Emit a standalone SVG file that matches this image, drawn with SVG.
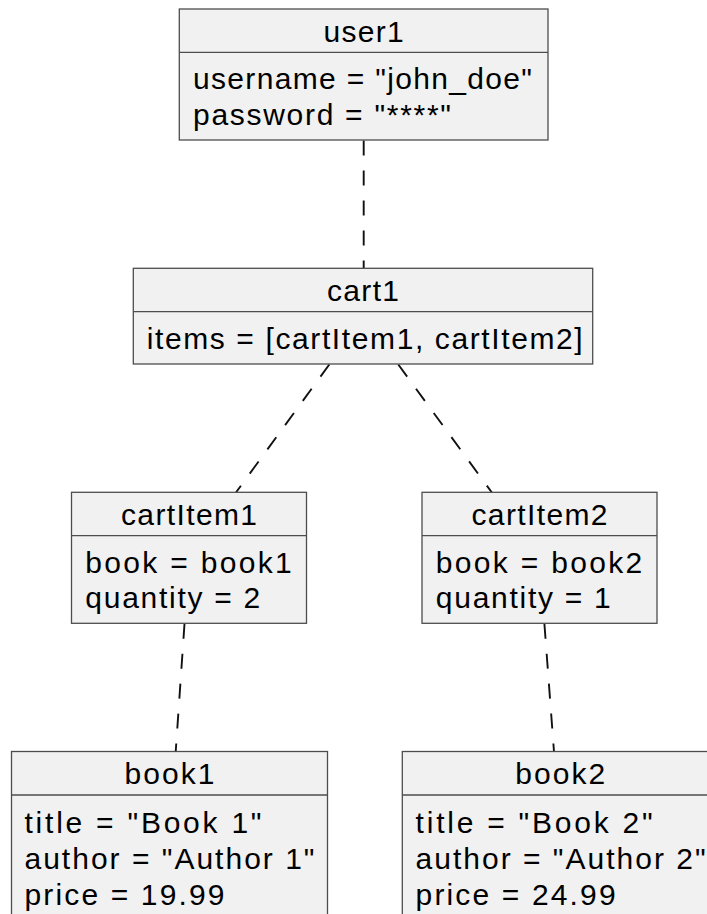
<svg xmlns="http://www.w3.org/2000/svg" width="707" height="914" viewBox="0 0 707 914">
<style>
.box{fill:#F1F1F1;stroke:#4d4d4d;stroke-width:1.3}
.div{stroke:#4d4d4d;stroke-width:1.3}
.t{font-family:"Liberation Sans",Arial,Helvetica,sans-serif;font-size:30px;fill:#000}
.link{stroke:#111;stroke-width:1.9;stroke-dasharray:15 15;fill:none}
</style>
<rect width="707" height="914" fill="#fff"/>
<g id="connectors">
<line class="link" x1="363.7" y1="140.5" x2="363.7" y2="268.3"/>
<line class="link" x1="329.3" y1="364.5" x2="236.1" y2="492.3"/>
<line class="link" x1="398.3" y1="364.5" x2="491.7" y2="492.3"/>
<line class="link" x1="184.5" y1="623.8" x2="175.7" y2="751.7"/>
<line class="link" x1="544.4" y1="623.8" x2="554" y2="751.7"/>
</g>
<g id="user1">
<rect class="box" x="179.3" y="9" width="368.7" height="131"/>
<line class="div" x1="179.3" y1="52.3" x2="548" y2="52.3"/>
<text class="t" x="363.6" y="42" text-anchor="middle" textLength="80" lengthAdjust="spacing">user1</text>
<text class="t" x="193" y="89" textLength="339" lengthAdjust="spacing">username = "john_doe"</text>
<text class="t" x="193" y="124.5" textLength="258" lengthAdjust="spacing">password = "****"</text>
</g>
<g id="cart1">
<rect class="box" x="133.3" y="268.3" width="459.4" height="95.7"/>
<line class="div" x1="133.3" y1="311.7" x2="592.7" y2="311.7"/>
<text class="t" x="363" y="301.3" text-anchor="middle" textLength="72" lengthAdjust="spacing">cart1</text>
<text class="t" x="146.7" y="348.7" textLength="436" lengthAdjust="spacing">items = [cartItem1, cartItem2]</text>
</g>
<g id="cartItem1">
<rect class="box" x="71.5" y="492.3" width="235" height="131"/>
<line class="div" x1="71.5" y1="535.7" x2="306.5" y2="535.7"/>
<text class="t" x="189" y="525.3" text-anchor="middle" textLength="136" lengthAdjust="spacing">cartItem1</text>
<text class="t" x="85.3" y="572.5" textLength="206.5" lengthAdjust="spacing">book = book1</text>
<text class="t" x="85.3" y="608" textLength="175" lengthAdjust="spacing">quantity = 2</text>
</g>
<g id="cartItem2">
<rect class="box" x="422" y="492.3" width="235" height="131"/>
<line class="div" x1="422" y1="535.7" x2="657" y2="535.7"/>
<text class="t" x="539.5" y="525.3" text-anchor="middle" textLength="136" lengthAdjust="spacing">cartItem2</text>
<text class="t" x="435.8" y="572.5" textLength="206.5" lengthAdjust="spacing">book = book2</text>
<text class="t" x="435.8" y="608" textLength="175" lengthAdjust="spacing">quantity = 1</text>
</g>
<g id="book1">
<rect class="box" x="11.5" y="751.5" width="316" height="180"/>
<line class="div" x1="11.5" y1="795" x2="327.5" y2="795"/>
<text class="t" x="169.5" y="784" text-anchor="middle" textLength="90" lengthAdjust="spacing">book1</text>
<text class="t" x="24.5" y="833" textLength="237" lengthAdjust="spacing">title = "Book 1"</text>
<text class="t" x="24.5" y="868.7" textLength="290" lengthAdjust="spacing">author = "Author 1"</text>
<text class="t" x="24.5" y="904.5" textLength="200" lengthAdjust="spacing">price = 19.99</text>
</g>
<g id="book2">
<rect class="box" x="402.3" y="751.5" width="316" height="180"/>
<line class="div" x1="402.3" y1="795" x2="718.3" y2="795"/>
<text class="t" x="560.3" y="784" text-anchor="middle" textLength="90" lengthAdjust="spacing">book2</text>
<text class="t" x="415.6" y="833" textLength="237" lengthAdjust="spacing">title = "Book 2"</text>
<text class="t" x="415.6" y="868.7" textLength="290" lengthAdjust="spacing">author = "Author 2"</text>
<text class="t" x="415.6" y="904.5" textLength="200" lengthAdjust="spacing">price = 24.99</text>
</g>
</svg>
